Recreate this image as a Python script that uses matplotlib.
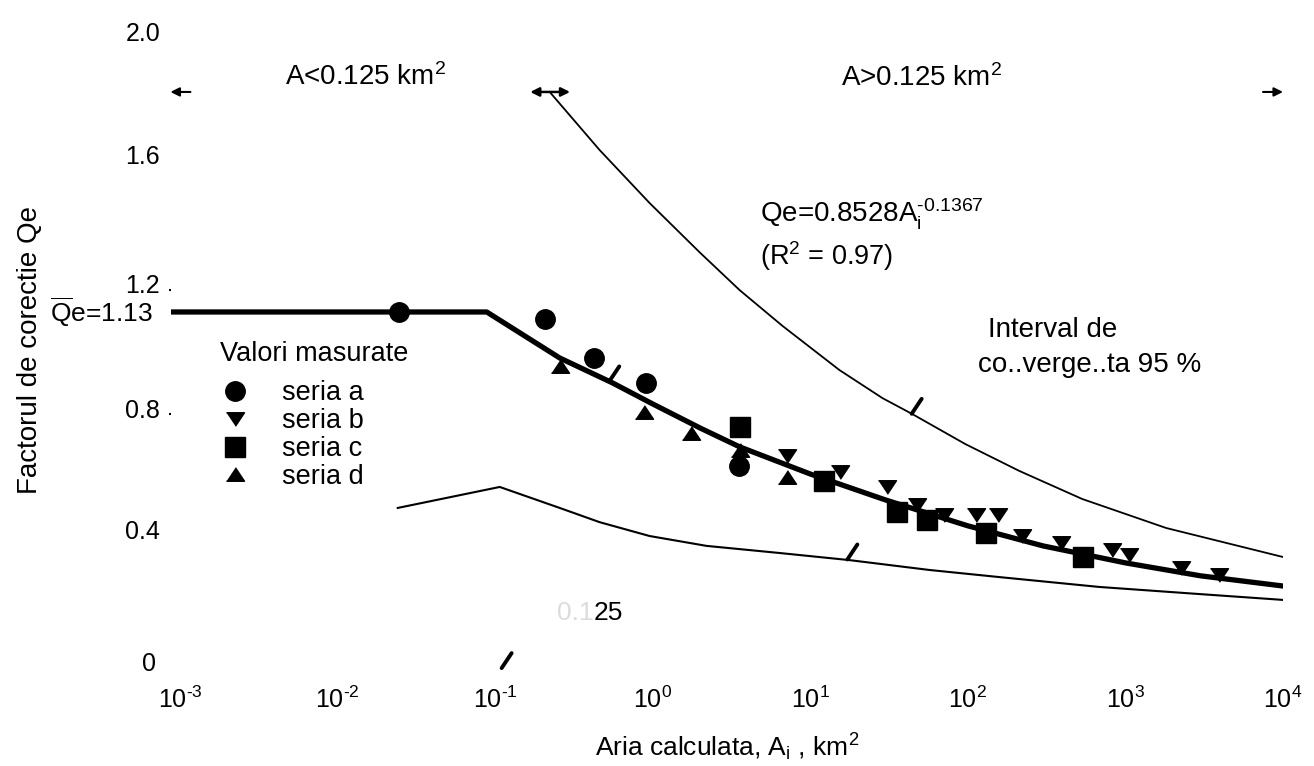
import matplotlib
matplotlib.use('Agg')
import matplotlib.pyplot as plt
from matplotlib.ticker import NullLocator
from matplotlib.transforms import ScaledTranslation

plt.rcParams['font.family'] = ['Liberation Sans', 'DejaVu Sans']
plt.rcParams['mathtext.fontset'] = 'custom'
plt.rcParams['mathtext.rm'] = 'Liberation Sans'
plt.rcParams['mathtext.it'] = 'Liberation Sans:italic'
plt.rcParams['mathtext.bf'] = 'Liberation Sans:bold'
plt.rcParams['mathtext.default'] = 'regular'
plt.rcParams['axes.unicode_minus'] = False

# ---------------- data ----------------
# fitted relation Qe = 0.8528 A^-0.1367, with the plateau Qe = 1.13
fit_A = [0.00087, 0.0885, 0.257, 0.557, 1.0, 2.0, 3.56, 10, 30, 100, 300, 1000, 3000, 10000]
fit_Q = [1.13, 1.13, 0.981, 0.900, 0.832, 0.754, 0.693, 0.605, 0.521, 0.437, 0.372, 0.317, 0.275, 0.242]

# 95 % confidence interval
upper_A = [0.222, 0.46, 0.956, 1.98, 3.56, 6.66, 15.3, 28.7, 44.5, 96.4, 212, 532, 1814, 10000]
upper_Q = [1.843, 1.655, 1.483, 1.324, 1.201, 1.085, 0.942, 0.851, 0.799, 0.702, 0.615, 0.524, 0.430, 0.336]
lower_A = [0.0241, 0.107, 0.257, 0.46, 0.956, 2.2, 6.38, 17.7, 57, 158, 682, 2938, 10000]
lower_Q = [0.495, 0.563, 0.495, 0.449, 0.404, 0.372, 0.349, 0.326, 0.294, 0.271, 0.239, 0.216, 0.197]

# measured values
a_A = [0.0245, 0.206, 0.422, 0.902, 3.51]
a_Q = [1.130, 1.107, 0.981, 0.900, 0.631]
b_A = [7.07, 15.5, 30.9, 47.8, 71.0, 113, 156, 222, 392, 825, 1057, 2258, 3934]
b_Q = [0.663, 0.611, 0.563, 0.505, 0.472, 0.472, 0.472, 0.404, 0.381, 0.358, 0.342, 0.300, 0.278]
c_A = [3.56, 12.3, 35.7, 55.3, 131, 540]
c_Q = [0.757, 0.582, 0.482, 0.456, 0.414, 0.336]
d_A = [0.257, 0.876, 1.74, 3.56, 7.07]
d_Q = [0.955, 0.806, 0.738, 0.683, 0.595]

series_labels = ['seria a', 'seria b', 'seria c', 'seria d']
x_ticks = [1e-3, 1e-2, 1e-1, 1e0, 1e1, 1e2, 1e3, 1e4]
x_tick_labels = ['10$^{\u20103}$', '10$^{\u20102}$', '10$^{\u20101}$', '10$^{0}$',
                 '10$^{1}$', '10$^{2}$', '10$^{3}$', '10$^{4}$']
y_ticks = [0, 0.4, 0.8, 1.2, 1.6, 2.0]
y_tick_labels = ['0', '0.4', '0.8', '1.2', '1.6', '2.0']

# region markers (A = 0.125 km2 boundary) and leader marks
region_A = [0.00087, 0.167, 0.299, 10000]
region_Q = 1.843
leader_A = [0.53, 44.0, 17.2, 0.11]
leader_Q = [0.905, 0.80, 0.328, -0.024]

# ---------------- figure ----------------
W, H = 1314, 766
L, R, T, B = 170.5, 1283, 43.5, 660.7
fig = plt.figure(figsize=(W / 100, H / 100), dpi=100)
ax = fig.add_axes([L / W, 1 - B / H, (R - L) / W, (B - T) / H])
ax.set_xscale('log')
ax.set_xlim(10 ** -3.06, 1e4)
ax.set_ylim(0, 2.0)
for s in ax.spines.values():
    s.set_visible(False)

tri_up = [(-1, -0.75), (1, -0.75), (0, 0.75)]
tri_dn = [(-1, 0.75), (1, 0.75), (0, -0.75)]

ax.plot(fit_A, fit_Q, color='black', lw=3.8, solid_joinstyle='round', zorder=3)
ax.plot(upper_A, upper_Q, color='black', lw=1.3, zorder=2)
ax.plot(lower_A, lower_Q, color='black', lw=1.5, zorder=2)

ha, = ax.plot(a_A, a_Q, marker='o', color='black', ms=14, ls='none', zorder=5)
hb, = ax.plot(b_A, b_Q, marker=tri_dn, color='black', ms=13, ls='none', zorder=5)
hc, = ax.plot(c_A, c_Q, marker='s', color='black', ms=14.5, ls='none', zorder=5)
hd, = ax.plot(d_A, d_Q, marker=tri_up, color='black', ms=13, ls='none', zorder=5)

# ticks
ax.set_xticks(x_ticks)
ax.set_xticklabels(x_tick_labels)
ax.xaxis.set_minor_locator(NullLocator())
ax.tick_params(axis='x', length=0, pad=19, labelsize=18)
ax.set_yticks(y_ticks)
ax.set_yticklabels(y_tick_labels)
ax.tick_params(axis='y', length=1.5, width=1.5, direction='out', pad=6, labelsize=18)
for i, t in enumerate(ax.yaxis.get_major_ticks()):
    if y_tick_labels[i] not in ('0.8', '1.2'):
        t.tick1line.set_visible(False)
y_offsets_px = [(-4, -1), (0, 8), (0, 5), (0, 7), (0, 12), (0, 12)]
for lab, (ox, oy) in zip(ax.get_yticklabels(), y_offsets_px):
    lab.set_transform(lab.get_transform() + ScaledTranslation(ox / 100, oy / 100, fig.dpi_scale_trans))

# axis labels
ax.set_xlabel('Aria calculata, A$_{i}$ , km$^{2}$', fontsize=19)
ax.xaxis.set_label_coords(0.5, (B - 747) / (B - T))
ax.xaxis.label.set_verticalalignment('center')
ax.set_ylabel('Factorul de corectie Qe', fontsize=20)
ax.yaxis.set_label_coords((30 - L) / (R - L), (B - 350) / (B - T))
ax.yaxis.label.set_verticalalignment('center')


def fx(px):
    return (px - L) / (R - L)


def fy(py):
    return (B - py) / (B - T)


tk = dict(transform=ax.transAxes, color='black')
ax.text(fx(365), fy(77), 'A<0.125 km$^{2}$', ha='center', va='center', fontsize=20, **tk)
ax.text(fx(921), fy(78), 'A>0.125 km$^{2}$', ha='center', va='center', fontsize=20, **tk)
ax.text(fx(760), fy(223), 'Qe=0.8528A$_{i}^{\u20100.1367}$', ha='left', va='baseline', fontsize=20, **tk)
ax.text(fx(760), fy(265), '(R$^{2}$ = 0.97)', ha='left', va='baseline', fontsize=19.5, **tk)
ax.text(fx(988), fy(337), 'Interval de', ha='left', va='baseline', fontsize=20, **tk)
ax.text(fx(978), fy(372), 'co..verge..ta 95 %', ha='left', va='baseline', fontsize=20, **tk)
ax.text(fx(153), fy(312), r'$\overline{Q}$e=1.13', ha='right', va='center', fontsize=19, **tk)
ax.text(fx(594), fy(620), '0.1', ha='right', va='baseline', transform=ax.transAxes,
        fontsize=19, color='#dcdcdc')
ax.text(fx(594), fy(620), '25', ha='left', va='baseline', fontsize=19, **tk)

# region arrows at the top
arr = dict(arrowstyle='-|>', color='black', lw=1.5, mutation_scale=13, shrinkA=0, shrinkB=0)
ax.annotate('', xy=(region_A[0], region_Q), xytext=(20, 0), textcoords='offset pixels',
            arrowprops=arr, annotation_clip=False)
ax.annotate('', xy=(region_A[1], region_Q), xytext=(region_A[2], region_Q),
            arrowprops=dict(arrowstyle='<|-|>', color='black', lw=1.8, mutation_scale=13,
                            shrinkA=0, shrinkB=0), annotation_clip=False)
ax.annotate('', xy=(region_A[3], region_Q), xytext=(-20, 0), textcoords='offset pixels',
            arrowprops=arr, annotation_clip=False)

# short leader marks
for la, lq in zip(leader_A, leader_Q):
    ax.annotate('', xy=(la, lq), xytext=(10, 15), textcoords='offset pixels',
                arrowprops=dict(arrowstyle='-', lw=2.8, color='black', shrinkA=0, shrinkB=0),
                annotation_clip=False)

leg = ax.legend(handles=[ha, hb, hc, hd], labels=series_labels, title='Valori masurate',
                loc='upper left', bbox_to_anchor=(220 / W, 1 - 341 / H),
                bbox_transform=fig.transFigure, frameon=False, fontsize=19.5,
                title_fontsize=19.5, handlelength=1.1, handletextpad=1.18,
                labelspacing=0.07, borderpad=0, borderaxespad=0, alignment='left')
leg._legend_box.sep = 9.5

fig.savefig('out.png', dpi=100, facecolor='white')
